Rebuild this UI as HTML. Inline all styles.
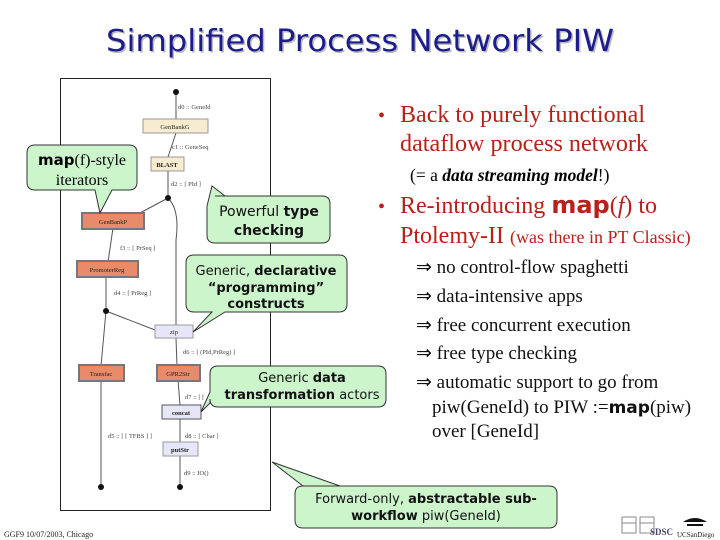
<!DOCTYPE html>
<html><head><meta charset="utf-8"><style>
body{margin:0;background:#fff;}
svg{display:block}
.s{font-family:"Liberation Serif",serif}
.d{font-family:"DejaVu Sans",sans-serif}
</style></head><body>
<svg width="720" height="540" viewBox="0 0 720 540" xmlns="http://www.w3.org/2000/svg">
<text x="360" y="51" text-anchor="middle" class="d" font-size="30" fill="#bbb" dx="1.5" dy="1.5" textLength="508" lengthAdjust="spacingAndGlyphs">Simplified Process Network PIW</text>
<text x="360" y="51" text-anchor="middle" class="d" font-size="30" fill="#1c1c8c" textLength="508" lengthAdjust="spacingAndGlyphs">Simplified Process Network PIW</text>

<rect x="60.5" y="78.5" width="210" height="432" fill="#fff" stroke="#222" stroke-width="1"/>
<g stroke="#555" stroke-width="1" fill="none">
<line x1="176" y1="92" x2="176" y2="119"/>
<line x1="176" y1="133" x2="168" y2="157"/>
<line x1="168" y1="171" x2="168" y2="198"/>
<line x1="168" y1="198" x2="140" y2="213"/>
<line x1="113" y1="228" x2="108" y2="262"/>
<line x1="106" y1="276" x2="106" y2="311"/>
<line x1="106" y1="311" x2="155" y2="330"/>
<line x1="106" y1="311" x2="101" y2="366"/>
<path d="M168 198 Q180 210 176 240 L176 325"/>
<line x1="176" y1="338" x2="177" y2="366"/>
<line x1="178" y1="380" x2="180" y2="405"/>
<line x1="180" y1="419" x2="180" y2="442"/>
<line x1="180" y1="456" x2="180" y2="487"/>
<line x1="101" y1="380" x2="101" y2="487"/>
</g>
<g fill="#111"><circle cx="176" cy="92" r="3"/><circle cx="168" cy="198" r="3"/><circle cx="106" cy="311" r="3"/><circle cx="101" cy="487" r="3"/><circle cx="180" cy="487" r="3"/></g>
<g font-family="Liberation Serif,serif" font-size="6.5" fill="#444">
<text x="178" y="109">d0 :: GeneId</text>
<text x="172" y="149">c1 :: GeneSeq</text>
<text x="171" y="186">d2 :: [ PId ]</text>
<text x="120" y="250">f3 :: [ PrSeq ]</text>
<text x="114" y="295">d4 :: [ PrReg ]</text>
<text x="183" y="354">d6 :: [ (PId,PrReg) ]</text>
<text x="185" y="399">d7 :: [ [</text>
<text x="108" y="438">d5 :: [ [ TFBS ] ]</text>
<text x="185" y="438">d8 :: [ Char ]</text>
<text x="184" y="475">d9 :: IO()</text>
</g>
<g font-family="Liberation Serif,serif" font-size="6.5" text-anchor="middle" fill="#222">
<rect x="143" y="119" width="65" height="14" fill="#f8ecd0" stroke="#999"/><text x="175" y="129">GenBankG</text>
<rect x="151" y="157" width="33" height="14" fill="#f8ecd0" stroke="#999"/><text x="167" y="167" font-weight="bold">BLAST</text>
<rect x="82" y="213" width="62" height="16" fill="#e98a6a" stroke="#777" stroke-width="2"/><text x="113" y="224">GenBankP</text>
<rect x="77" y="261" width="61" height="16" fill="#e98a6a" stroke="#777" stroke-width="2"/><text x="107" y="272">PromoterReg</text>
<rect x="155" y="325" width="38" height="13" fill="#e6e6f8" stroke="#999"/><text x="174" y="334">zip</text>
<rect x="79" y="365" width="45" height="16" fill="#e98a6a" stroke="#777" stroke-width="2"/><text x="101" y="376">Transfac</text>
<rect x="157" y="365" width="43" height="16" fill="#e98a6a" stroke="#777" stroke-width="2"/><text x="178" y="376">GPR2Str</text>
<rect x="162" y="405" width="39" height="14" fill="#e6e6f8" stroke="#555"/><text x="181" y="415" font-weight="bold">concat</text>
<rect x="163" y="442" width="35" height="14" fill="#e6e6f8" stroke="#999"/><text x="180" y="452" font-weight="bold">putStr</text>
</g>

<g fill="#ccf5cc" stroke="#333" stroke-width="1">
<path d="M35 145 H129 Q137 145 137 153 V182 Q137 190 129 190 H112 L100 213 L95 190 H35 Q27 190 27 182 V153 Q27 145 35 145Z"/>
<path d="M215 196 H322 Q330 196 330 204 V235 Q330 243 322 243 H215 Q207 243 207 235 V206 L212 186 L225 196Z"/>
<path d="M194 255 H339 Q347 255 347 263 V304 Q347 312 339 312 H225 L193 332 L212 312 H194 Q186 312 186 304 V263 Q186 255 194 255Z"/>
<path d="M218 366 H378 Q386 366 386 374 V399 Q386 407 378 407 H218 Q210 407 210 399 V403 L201 412 L210 392 V374 Q210 366 218 366Z"/>
<path d="M303 486 H549 Q557 486 557 494 V520 Q557 528 549 528 H303 Q295 528 295 520 V494 Q295 486 303 486 H340 L272 462 Z"/>
</g>
<g font-family="Liberation Serif,serif" text-anchor="middle">
<text x="82" y="165" font-size="16"><tspan class="d" font-weight="bold" font-size="15">map</tspan>(f)-style</text>
<text x="82" y="185" font-size="16">iterators</text>
</g>
<g class="d" text-anchor="middle" fill="#111">
<text x="269" y="216" font-size="14">Powerful <tspan font-weight="bold">type</tspan></text>
<text x="269" y="235" font-size="14" font-weight="bold">checking</text>
<text x="266" y="275" font-size="13">Generic, <tspan font-weight="bold">declarative</tspan></text>
<text x="266" y="292" font-size="13" font-weight="bold">“programming”</text>
<text x="266" y="308" font-size="13" font-weight="bold">constructs</text>
<text x="302" y="382" font-size="13">Generic <tspan font-weight="bold">data</tspan></text>
<text x="302" y="399" font-size="13"><tspan font-weight="bold">transformation</tspan> actors</text>
<text x="426" y="503" font-size="13">Forward-only, <tspan font-weight="bold">abstractable sub-</tspan></text>
<text x="426" y="520" font-size="13"><tspan font-weight="bold">workflow</tspan> piw(GeneId)</text>
</g>

<g class="s" fill="#b8201a" font-size="24">
<text x="378" y="122" font-size="20">•</text>
<text x="400" y="122" textLength="245" lengthAdjust="spacingAndGlyphs">Back to purely functional</text>
<text x="400" y="151" textLength="248" lengthAdjust="spacingAndGlyphs">dataflow process network</text>
<text x="378" y="213" font-size="20">•</text>
<text x="400" y="213">Re-introducing <tspan class="d" font-weight="bold">map</tspan>(<tspan font-style="italic">f</tspan>) to</text>
<text x="400" y="243">Ptolemy-II <tspan font-size="18">(was there in PT Classic)</tspan></text>
</g>
<text x="410" y="181" class="s" font-size="17.5">(= a <tspan font-style="italic" font-weight="bold">data streaming model</tspan>!)</text>
<g class="s" font-size="19" fill="#111">
<text x="416" y="273">⇒ no control-flow spaghetti</text>
<text x="416" y="302">⇒ data-intensive apps</text>
<text x="416" y="331">⇒ free concurrent execution</text>
<text x="416" y="359">⇒ free type checking</text>
<text x="416" y="388">⇒ automatic support to go from</text>
<text x="432" y="413">piw(GeneId) to PIW :=<tspan class="d" font-weight="bold" font-size="17">map</tspan>(piw)</text>
<text x="432" y="437">over [GeneId]</text>
</g>

<text x="4" y="537" class="s" font-size="8" fill="#222">GGF9 10/07/2003, Chicago</text>
<g fill="none" stroke="#888"><rect x="622" y="517" width="14" height="16"/><rect x="640" y="517" width="14" height="16"/><line x1="622" y1="523" x2="636" y2="523"/><line x1="640" y1="523" x2="654" y2="523"/></g>
<text x="650" y="535" class="s" font-size="9" font-weight="bold" fill="#446">SDSC</text>
<path d="M683 522 Q695 514 707 522 Z" fill="#111"/><rect x="687" y="524" width="16" height="2" fill="#111"/>
<text x="677" y="537" class="s" font-size="7" fill="#222">UCSanDiego</text>
</svg>
</body></html>
